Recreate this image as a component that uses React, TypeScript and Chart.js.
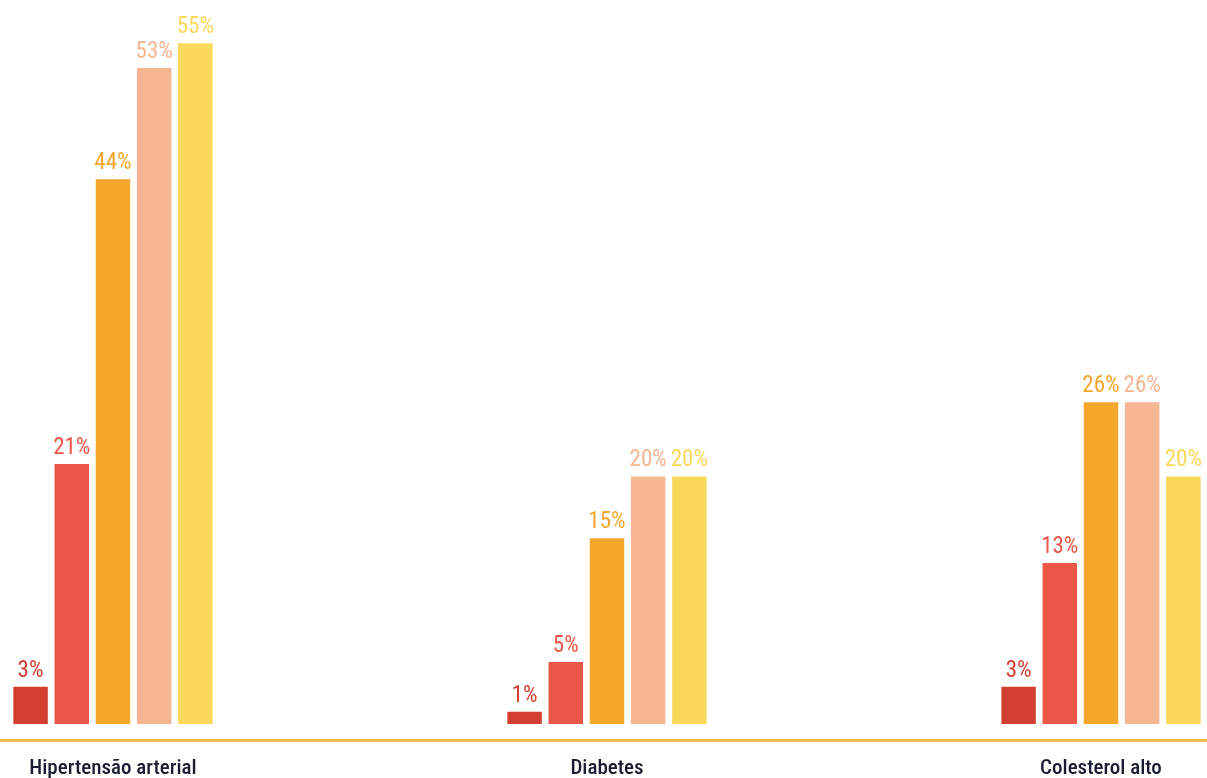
import React, { useEffect, useRef } from "react";
import { Chart, registerables } from "chart.js";

Chart.register(...registerables);

const categories = ["Hipertensão arterial", "Diabetes", "Colesterol alto"];
const series1 = [3, 1, 3];
const series2 = [21, 5, 13];
const series3 = [44, 15, 26];
const series4 = [53, 20, 26];
const series5 = [55, 20, 20];
const seriesValues = [series1, series2, series3, series4, series5];
const seriesColors = ["#D23F31", "#EC5646", "#F5A72D", "#F6B593", "#FAD85A"];

const FONT = "'Roboto Condensed', 'Liberation Sans Narrow', sans-serif";

const valueLabels = {
  id: "valueLabels",
  afterDatasetsDraw(chart: any) {
    const { ctx } = chart;
    ctx.save();
    ctx.font = `23px ${FONT}`;
    ctx.textAlign = "center";
    ctx.textBaseline = "alphabetic";
    chart.data.datasets.forEach((ds: any, di: number) => {
      const meta = chart.getDatasetMeta(di);
      meta.data.forEach((bar: any, i: number) => {
        const v = ds.data[i].y;
        ctx.fillStyle = seriesColors[di];
        ctx.fillText(`${v}%`, bar.x, bar.y - 10);
      });
    });
    ctx.restore();
  },
};

export default function App() {
  const ref = useRef<HTMLCanvasElement>(null);
  useEffect(() => {
    if (!ref.current) return;
    const chart = new Chart(ref.current, {
      type: "bar",
      data: {
        datasets: seriesValues.map((vals, si) => ({
          label: `s${si + 1}`,
          data: vals.map((v, ci) => ({ x: ci, y: v })),
          backgroundColor: seriesColors[si],
          borderWidth: 0,
          categoryPercentage: 0.417,
          barPercentage: 0.837,
        })),
      },
      options: {
        animation: false,
        responsive: false,
        maintainAspectRatio: false,
        layout: { padding: { top: 6, left: 0, right: 0, bottom: 0 } },
        plugins: { legend: { display: false }, tooltip: { enabled: false } },
        scales: {
          x: {
            type: "linear",
            offset: false,
            min: -0.2287,
            max: 2.2146,
            grid: { display: false, drawTicks: false, tickLength: 0 },
            border: { display: true, color: "#F7B850", width: 3 },
            afterBuildTicks: (scale: any) => {
              scale.ticks = categories.map((_, i) => ({ value: i }));
            },
            afterFit: (scale: any) => {
              scale.height = 38;
            },
            ticks: {
              autoSkip: false,
              maxRotation: 0,
              padding: 16,
              color: "#1C1C30",
              font: { family: FONT, size: 21, weight: "500" },
              callback: (v: any) => categories[Number(v)] ?? "",
            },
          },
          y: {
            display: false,
            min: -1.292,
            max: 58,
          },
        },
      },
      plugins: [valueLabels],
    });
    return () => chart.destroy();
  }, []);
  return (
    <div style={{ position: "absolute", left: 0, top: 0, width: 1207, height: 778, background: "#fff" }}>
      <canvas ref={ref} width={1207} height={778} style={{ display: "block" }} />
    </div>
  );
}
